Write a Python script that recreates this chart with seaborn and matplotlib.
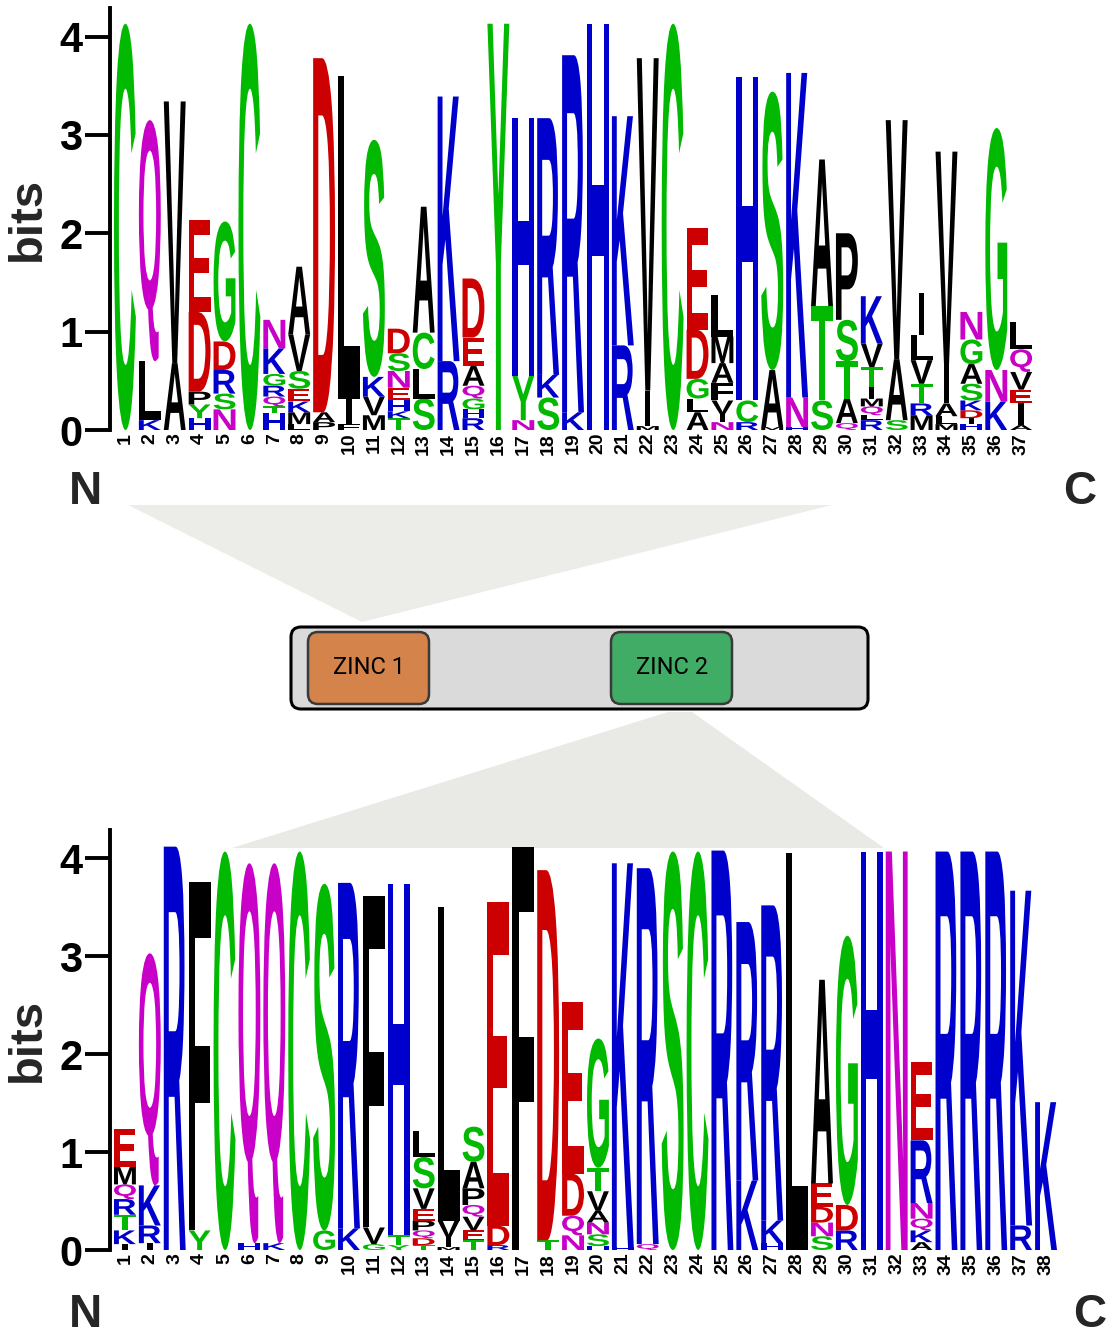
import matplotlib
matplotlib.use("Agg")
import matplotlib.pyplot as plt
import seaborn as sns
from matplotlib.textpath import TextPath
from matplotlib.patches import PathPatch, Polygon, FancyBboxPatch
from matplotlib.font_manager import FontProperties
from matplotlib.transforms import Affine2D

sns.set_theme(style="white")
plt.rcParams['font.family'] = ['Liberation Sans', 'DejaVu Sans']

# Logo data: letters of each stack (bottom -> top) and their heights in bits
top_letters = [
    "C", "KLQ", "AV", "HYPDE", "NSRDG", "C", "HTQRGKN", "LMKESVA", "PAD", "FIL",
    "MVKS", "TKHENSD", "SLCA", "RK", "RHGQAED", "Y", "NYH", "SKR", "KR", "H",
    "RK", "MIV", "C", "ALGDE", "NIVFAML", "RCH", "MAS", "HNK", "STA", "QATSP",
    "RLQMITVK", "SAV", "MRTVLI", "MLAIV", "HIDKSAGN", "KNG", "AIEVQL",
]
top_heights = [
    [4.13], [0.10, 0.60, 2.45], [0.68, 2.66], [0.12, 0.14, 0.13, 0.81, 0.93],
    [0.21, 0.16, 0.24, 0.29, 1.22], [4.13],
    [0.17, 0.07, 0.10, 0.11, 0.12, 0.26, 0.29],
    [0.06, 0.12, 0.11, 0.13, 0.18, 0.37, 0.69], [0.08, 0.10, 3.60], [0.06, 0.26, 3.28],
    [0.15, 0.19, 0.20, 2.41], [0.12, 0.07, 0.11, 0.13, 0.17, 0.18, 0.25],
    [0.32, 0.30, 0.37, 1.28], [0.70, 2.69], [0.12, 0.09, 0.11, 0.13, 0.20, 0.29, 0.60],
    [4.13], [0.10, 0.45, 2.62], [0.33, 0.23, 2.61], [0.18, 3.63], [4.13],
    [0.86, 2.33], [0.04, 0.36, 3.38], [4.13], [0.18, 0.14, 0.20, 0.50, 1.03],
    [0.08, 0.08, 0.14, 0.18, 0.20, 0.27, 0.42], [0.08, 0.22, 3.29], [0.03, 0.58, 2.83],
    [0.03, 0.30, 3.30], [0.30, 0.96, 1.49], [0.07, 0.25, 0.38, 0.42, 0.88],
    [0.10, 0.05, 0.09, 0.08, 0.12, 0.20, 0.24, 0.48], [0.10, 0.62, 2.43],
    [0.15, 0.12, 0.20, 0.24, 0.26, 0.42], [0.06, 0.08, 0.13, 0.38, 2.18],
    [0.06, 0.06, 0.08, 0.10, 0.17, 0.20, 0.25, 0.28], [0.29, 0.32, 2.46],
    [0.05, 0.22, 0.14, 0.18, 0.23, 0.28],
]

bottom_letters = [
    "IKTRQME", "IRKQ", "R", "YF", "C", "HQ", "KQ", "C", "GS", "KR",
    "GVF", "YTH", "TDQPEVSL", "MIVL", "TEVQPAS", "RDE", "F", "TD", "NQDE", "HSNAVTG",
    "HK", "QR", "S", "C", "R", "KR", "HKR", "L", "SNDEA", "RDG",
    "H", "N", "AKQNRE", "R", "R", "R", "RK", "K",
]
bottom_heights = [
    [0.06, 0.14, 0.16, 0.16, 0.15, 0.18, 0.39], [0.07, 0.18, 0.41, 2.37], [4.12],
    [0.20, 3.56], [4.07], [0.07, 3.88], [0.07, 3.88], [4.07], [0.20, 3.54], [0.22, 3.53],
    [0.06, 0.17, 3.39], [0.05, 0.10, 3.59], [0.05, 0.07, 0.08, 0.10, 0.12, 0.21, 0.32, 0.27],
    [0.03, 0.10, 0.17, 3.20], [0.10, 0.10, 0.14, 0.12, 0.17, 0.27, 0.36], [0.05, 0.20, 3.30],
    [4.12], [0.10, 3.78], [0.15, 0.20, 0.43, 1.75], [0.04, 0.12, 0.12, 0.12, 0.20, 0.24, 1.32],
    [0.03, 3.92], [0.06, 3.84], [4.07], [4.07], [4.08], [0.71, 2.64], [0.07, 0.23, 3.22],
    [4.06], [0.14, 0.14, 0.16, 0.24, 2.08], [0.20, 0.26, 2.75], [4.07], [4.07],
    [0.08, 0.12, 0.12, 0.16, 0.64, 0.80], [4.07], [4.07], [4.07], [0.25, 3.42], [1.51],
]

domain_names = ["ZINC 1", "ZINC 2"]

# chemistry colour scheme
COLORS = {}
for aa in "GSTYC":
    COLORS[aa] = "#00b900"
for aa in "NQ":
    COLORS[aa] = "#c800c8"
for aa in "KRH":
    COLORS[aa] = "#0000cc"
for aa in "DE":
    COLORS[aa] = "#cc0000"
for aa in "AVLIPWFM":
    COLORS[aa] = "#000000"

GLYPH_FONT = FontProperties(family="Liberation Sans", weight="bold")
REF_EXT = TextPath((0, 0), "H", size=1, prop=GLYPH_FONT).get_extents()

W, H = 1113, 1336
fig = plt.figure(figsize=(W / 100, H / 100), dpi=100)


def px_rect(left, top, right, bottom):
    return [left / W, 1 - bottom / H, (right - left) / W, (bottom - top) / H]


def draw_letter(ax, ch, x, y0, h, width=0.88):
    path = TextPath((0, 0), ch, size=1, prop=GLYPH_FONT)
    ext = path.get_extents()
    sx = width / (REF_EXT.width if ch == "I" else ext.width)
    sy = h / ext.height
    t = (Affine2D().translate(-(ext.x0 + ext.width / 2), -ext.y0)
         .scale(sx, sy).translate(x, y0))
    ax.add_patch(PathPatch(t.transform_path(path), facecolor=COLORS[ch],
                           edgecolor="none", lw=0))


def draw_logo(ax, letters, heights):
    for pos, (stack, hs) in enumerate(zip(letters, heights), start=1):
        y = 0.0
        for ch, h in zip(stack, hs):
            draw_letter(ax, ch, pos, y, h)
            y += h
    n = len(letters)
    ax.set_xlim(0.4, 38.6)
    ax.set_ylim(0, 4.29)
    ax.set_facecolor("none")
    ax.set_xticks(range(1, n + 1))
    ax.set_xticklabels([str(i) for i in range(1, n + 1)], rotation=90,
                       fontsize=14, fontweight="bold")
    ax.set_yticks([0, 1, 2, 3, 4])
    ax.set_yticklabels(["0", "1", "2", "3", "4"], fontsize=30, fontweight="bold")
    ax.tick_params(axis="x", length=0, pad=2, colors="black")
    ax.tick_params(axis="y", length=18, width=2.8, pad=2, colors="black", left=True)
    sns.despine(ax=ax, bottom=True)
    ax.spines["left"].set_linewidth(2.8)
    ax.spines["left"].set_color("black")
    ax.text(-0.086, 0.5, "bits", transform=ax.transAxes, rotation=90,
            ha="center", va="center", fontsize=34, fontweight="bold")


# background layer with the domain diagram, in pixel coordinates
bg = fig.add_axes([0, 0, 1, 1], zorder=0)
bg.set_xlim(0, W)
bg.set_ylim(H, 0)
bg.axis("off")
bg.add_patch(Polygon([(128, 505), (832, 505), (362, 622)], closed=True,
                     facecolor="#ecece9", edgecolor="none"))
bg.add_patch(Polygon([(668, 712), (692, 712), (884, 848), (232, 848)], closed=True,
                     facecolor="#e9e9e6", edgecolor="none"))
bg.add_patch(FancyBboxPatch((291, 627), 577, 82,
                            boxstyle="round,pad=0,rounding_size=10",
                            facecolor="#dadada", edgecolor="black", lw=2.2))
for name, x0, color in zip(domain_names, [308, 611], ["#d4834a", "#41ac65"]):
    bg.add_patch(FancyBboxPatch((x0, 632), 121, 72,
                                boxstyle="round,pad=0,rounding_size=10",
                                facecolor=color, edgecolor="#3a3a3a", lw=1.8))
    bg.text(x0 + 61, 667, name, ha="center", va="center", fontsize=17,
            family=["Roboto", "DejaVu Sans"], color="black")

ax_top = fig.add_axes(px_rect(110, 8, 1061, 430), zorder=1)
draw_logo(ax_top, top_letters, top_heights)

ax_bot = fig.add_axes(px_rect(110, 830, 1061, 1250), zorder=1)
draw_logo(ax_bot, bottom_letters, bottom_heights)

for x, y, s in [(85, 504, "N"), (1080, 504, "C"), (85, 1327, "N"), (1090, 1327, "C")]:
    fig.text(x / W, 1 - y / H, s, ha="center", va="baseline", fontsize=33,
             fontweight="bold")

fig.savefig("out.png", dpi=100)
